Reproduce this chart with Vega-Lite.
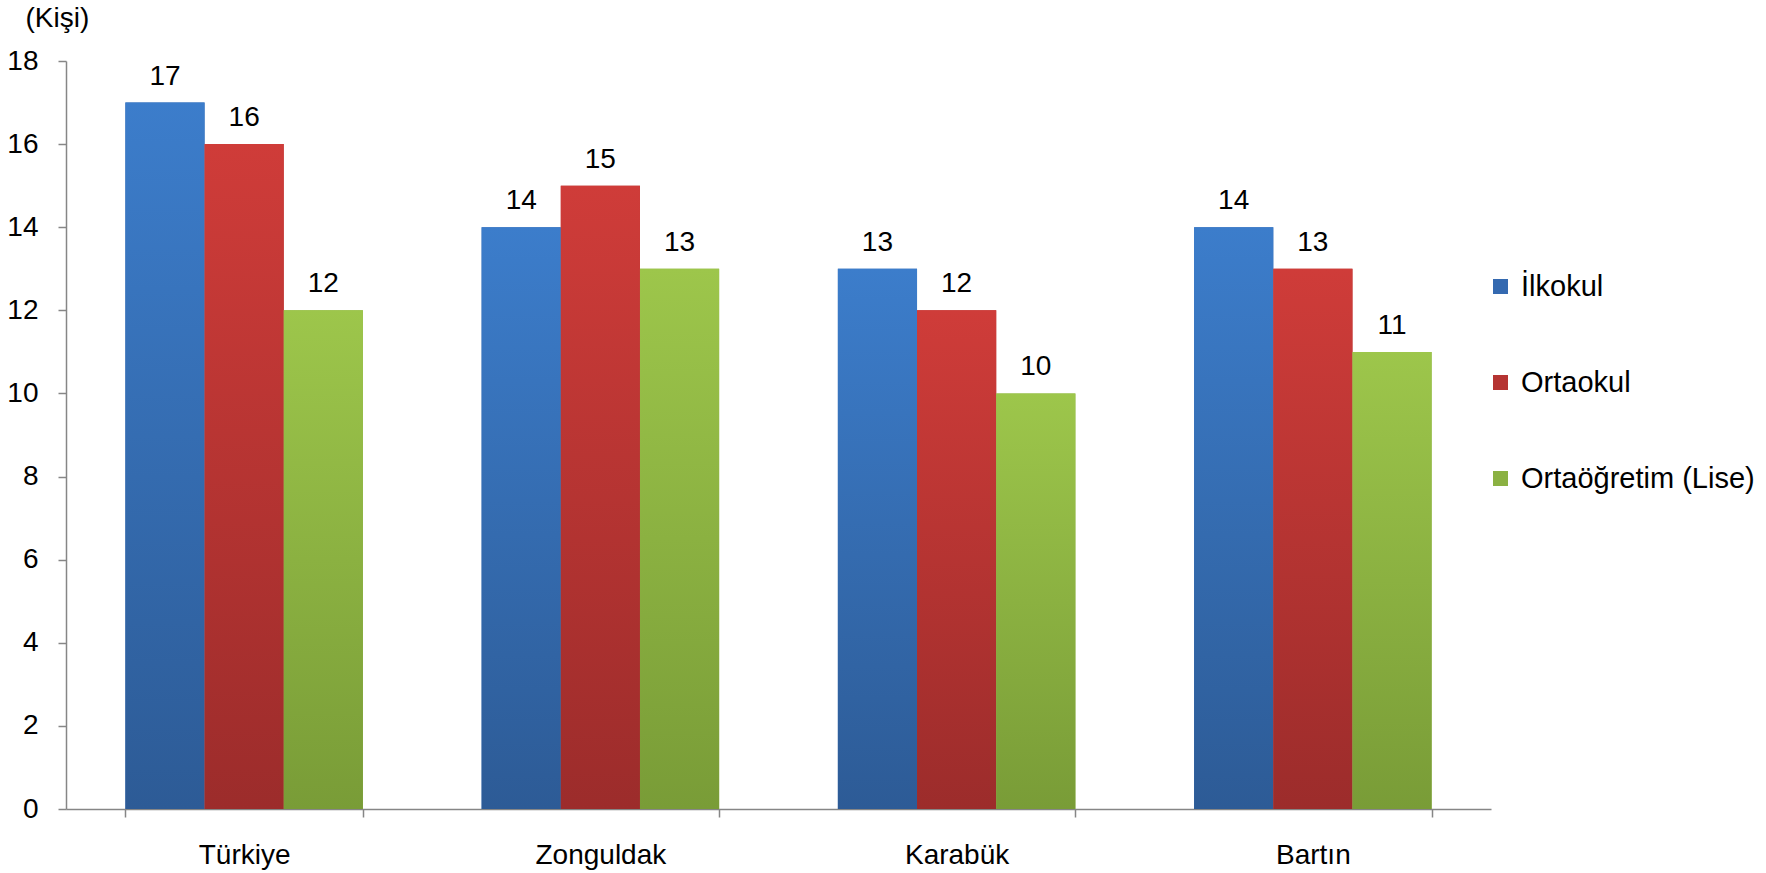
{
  "$schema": "https://vega.github.io/schema/vega-lite/v6.json",
  "autosize": "none",
  "width": 1425,
  "height": 748,
  "padding": {"left": 66, "top": 61, "right": 275, "bottom": 64},
  "background": "white",
  "config": {
    "font": "Liberation Sans",
    "view": {"stroke": null}
  },
  "data": {
    "values": [
      {"region": "Türkiye", "level": "İlkokul", "value": 17},
      {"region": "Türkiye", "level": "Ortaokul", "value": 16},
      {"region": "Türkiye", "level": "Ortaöğretim (Lise)", "value": 12},
      {"region": "Zonguldak", "level": "İlkokul", "value": 14},
      {"region": "Zonguldak", "level": "Ortaokul", "value": 15},
      {"region": "Zonguldak", "level": "Ortaöğretim (Lise)", "value": 13},
      {"region": "Karabük", "level": "İlkokul", "value": 13},
      {"region": "Karabük", "level": "Ortaokul", "value": 12},
      {"region": "Karabük", "level": "Ortaöğretim (Lise)", "value": 10},
      {"region": "Bartın", "level": "İlkokul", "value": 14},
      {"region": "Bartın", "level": "Ortaokul", "value": 13},
      {"region": "Bartın", "level": "Ortaöğretim (Lise)", "value": 11}
    ]
  },
  "encoding": {
    "x": {
      "field": "region", "type": "nominal", "sort": null,
      "scale": {"paddingInner": 0.3333, "paddingOuter": 0.1667},
      "axis": {
        "title": null, "labelAngle": 0, "labelFontSize": 28, "labelColor": "#000000",
        "labelBaseline": "alphabetic", "labelPadding": 46, "tickBand": "extent", "tickSize": 8, "tickColor": "#868686",
        "tickWidth": 1.5, "domainColor": "#868686", "domainWidth": 1.5, "grid": false
      }
    },
    "xOffset": {"field": "level", "type": "nominal", "sort": ["İlkokul", "Ortaokul", "Ortaöğretim (Lise)"], "scale": {"paddingInner": 0, "paddingOuter": 0}},
    "y": {
      "field": "value", "type": "quantitative",
      "scale": {"domain": [0, 18], "nice": false},
      "axis": {
        "title": "(Kişi)", "titleAngle": 0, "titleAlign": "left", "titleBaseline": "middle",
        "titleX": -41, "titleY": -43, "titleFontSize": 28, "titleFontWeight": "normal", "titleColor": "#000000",
        "values": [0, 2, 4, 6, 8, 10, 12, 14, 16, 18],
        "labelFontSize": 28, "labelColor": "#000000", "labelPadding": 20,
        "tickSize": 8, "tickColor": "#868686", "tickWidth": 1.5,
        "domainColor": "#868686", "domainWidth": 1.5, "grid": false
      }
    }
  },
  "layer": [
    {
      "mark": {"type": "bar"},
      "encoding": {
        "color": {
          "field": "level", "type": "nominal", "sort": ["İlkokul", "Ortaokul", "Ortaöğretim (Lise)"],
          "scale": {"domain": ["İlkokul", "Ortaokul", "Ortaöğretim (Lise)"], "range": ["#3469B0", "#B53432", "#8BB142"]},
          "legend": {
            "title": null, "orient": "none", "legendX": 1420, "legendY": 211,
            "symbolType": "square", "symbolSize": 225, "symbolStrokeWidth": 0, "symbolOpacity": 1,
            "labelFontSize": 29, "labelColor": "#000000", "labelOffset": 6,
            "rowPadding": 66, "labelLimit": 400
          }
        }
      }
    },
    {
      "transform": [{"filter": "datum.level === 'İlkokul'"}],
      "mark": {"type": "bar", "fill": {"gradient": "linear", "x1": 0, "y1": 0, "x2": 0, "y2": 1, "stops": [{"offset": 0, "color": "#3C7DCB"}, {"offset": 1, "color": "#2D5B96"}]}}
    },
    {
      "transform": [{"filter": "datum.level === 'Ortaokul'"}],
      "mark": {"type": "bar", "fill": {"gradient": "linear", "x1": 0, "y1": 0, "x2": 0, "y2": 1, "stops": [{"offset": 0, "color": "#CF3C39"}, {"offset": 1, "color": "#9C2C2B"}]}}
    },
    {
      "transform": [{"filter": "datum.level === 'Ortaöğretim (Lise)'"}],
      "mark": {"type": "bar", "fill": {"gradient": "linear", "x1": 0, "y1": 0, "x2": 0, "y2": 1, "stops": [{"offset": 0, "color": "#9DC64B"}, {"offset": 1, "color": "#799C37"}]}}
    },
    {
      "mark": {"type": "text", "baseline": "alphabetic", "dy": -18, "fontSize": 28, "color": "#000000"},
      "encoding": {"text": {"field": "value", "type": "quantitative"}}
    }
  ]
}
